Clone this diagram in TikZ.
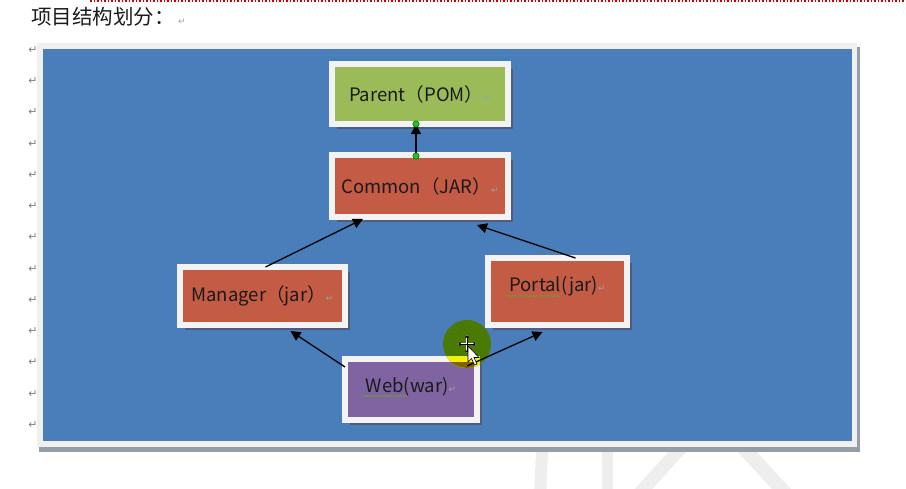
\documentclass[tikz,border=0pt]{standalone}
\usepackage{fontspec}
\usepackage{xcolor}
\usetikzlibrary{arrows.meta,positioning,calc,shadows,decorations.pathmorphing}
\newfontfamily\cjkfont{Noto Sans CJK SC}
\newfontfamily\symfont{DejaVu Sans}
\definecolor{panel}{HTML}{4A7EBB}
\definecolor{rim}{HTML}{F0F0F0}
\definecolor{rimshade}{HTML}{959DA7}
\definecolor{frame}{HTML}{F3F3F3}
\definecolor{boxshade}{HTML}{525B7C}
\definecolor{pomgreen}{HTML}{9BBB59}
\definecolor{jarred}{HTML}{C35B45}
\definecolor{warpurple}{HTML}{8064A2}
\definecolor{markgray}{HTML}{A0A0A0}
\definecolor{margingray}{HTML}{7F7F7F}
\definecolor{handle}{HTML}{1FC21F}
\definecolor{squiggle}{HTML}{6E9A3C}
\definecolor{ghost}{HTML}{EEEEEE}
\definecolor{spot}{HTML}{4B7A02}
\definecolor{spotlit}{HTML}{F2F200}
\definecolor{spotdim}{HTML}{7F6300}
\definecolor{ink}{HTML}{1A1A1A}
\newcommand{\pmark}{{\symfont\fontsize{9}{9}\selectfont\textcolor{markgray}{↵}}}
\tikzset{
  box/.style={draw=frame, line width=6pt, inner sep=0pt, outer sep=3pt,
              font=\cjkfont\fontsize{18.5}{18.5}\selectfont, text=ink,
              drop shadow={shadow xshift=5pt, shadow yshift=-5pt, fill=boxshade, opacity=1}},
  arrow/.style={-{Triangle[length=10pt,width=10pt]}, line width=1.3pt, draw=black},
  pmk/.style={font=\symfont\fontsize{11}{11}\selectfont, text=margingray, inner sep=0pt},
  wavy/.style={draw=squiggle, line width=0.6pt, decorate,
               decoration={snake, amplitude=0.8pt, segment length=3pt}}
}
\begin{document}
\begin{tikzpicture}[x=1pt,y=-1pt]
  \useasboundingbox (0,0) rectangle (906,488);

  % heading
  \draw[red!80!black, dotted, line width=1.5pt] (90,0.8) -- (906,0.8);
  \node[anchor=west, inner sep=0pt, font=\cjkfont\fontsize{20.5}{20.5}\selectfont, text=ink] (title)
    at (31,17) {项目结构划分：\,\pmark};

  % faint watermark strokes
  \draw[ghost, line width=12pt] (543,430) -- (540,495);
  \draw[ghost, line width=11pt] (607,430) -- (607,495);
  \draw[ghost, line width=13pt] (697,430) -- (638,495);
  \draw[ghost, line width=14pt] (727,430) -- (787,495);

  % paragraph marks down the margin
  \foreach \k in {0,...,12} {
    \node[pmk] (m\k) at (33,{50+31.25*\k}) {↵};
  }

  % panel
  \fill[rimshade] (39,47) rectangle (860,452);
  \fill[rim] (37,43) rectangle (857,447);
  \fill[panel] (43,49) rectangle (852,441);

  % modules
  \node[box, fill=pomgreen, minimum width=176pt, minimum height=60pt] (parent) at (420,94)
    {Parent（POM）\pmark};
  \node[box, fill=jarred, minimum width=176pt, minimum height=62pt] (common) at (420,186)
    {Common（JAR）\pmark};
  \node[box, fill=jarred, minimum width=165pt, minimum height=58pt] (manager) at (262.5,296)
    {Manager（jar）\pmark};
  \node[box, fill=jarred, minimum width=139pt, minimum height=67pt] (portal) at (557.5,291.5)
    {\raisebox{5pt}[\height][\depth]{Portal(jar)\pmark}\hspace{8pt}};
  \node[box, fill=warpurple, minimum width=132pt, minimum height=61pt] (web) at (411,389.5)
    {\raisebox{3pt}[\height][\depth]{Web(war)\pmark}\hspace{6pt}};

  % spell-check squiggles
  \draw[wavy] ($(portal.center)+(-52,4.5)$) -- ($(portal.center)+(3,4.5)$);
  \draw[wavy] ($(web.center)+(-48,6.5)$) -- ($(web.center)+(-4,6.5)$);

  % cursor spot
  \begin{scope}
    \clip (467,344) circle (24pt);
    \fill[spot] (440,318) rectangle (494,370);
    \fill[spotlit] (web.north west) rectangle (web.south east);
    \fill[spotdim] ($(web.north west)+(6,6)$) rectangle ($(web.south east)+(-6,-6)$);
  \end{scope}

  % dependencies
  \coordinate (tail) at ($(common.north)+(-4,4)$);
  \coordinate (head) at ($(parent.south)+(-4,-3)$);
  \draw[arrow] (tail) -- (head);
  \filldraw[fill=handle, draw=black!60!green, line width=0.5pt] (tail) circle (3.2pt);
  \filldraw[fill=handle, draw=black!60!green, line width=0.5pt] (head) circle (3.2pt);
  \draw[arrow] ($(manager.north)+(3,3)$) -- ($(common.south)+(-57,-1)$);
  \draw[arrow] ($(portal.north)+(18,3)$) -- ($(common.south)+(57,5)$);
  \draw[arrow] ($(web.north west)+(3,11)$) -- ($(manager.south)+(28,3)$);
  \draw[arrow] ($(web.north east)+(-13,10)$) -- ($(portal.south)+(-15,4)$);

  % mouse pointer
  \foreach \d in {(0,-9),(0,9),(-9,0),(9,0)} {
    \draw[white, line width=2.4pt] (467,344) -- ++\d;
  }
  \foreach \d in {(0,-9),(0,9),(-9,0),(9,0)} {
    \draw[-{Triangle[length=2.5pt,width=4pt]}, black, line width=0.8pt] (467,344) -- ++\d;
  }
  \filldraw[fill=white, draw=black, line width=0.6pt]
    (468,346) -- (468,362) -- (471.5,358.5) -- (474.5,365) -- (477,364) -- (474,357.5) -- (479,357.5) -- cycle;
\end{tikzpicture}
\end{document}
